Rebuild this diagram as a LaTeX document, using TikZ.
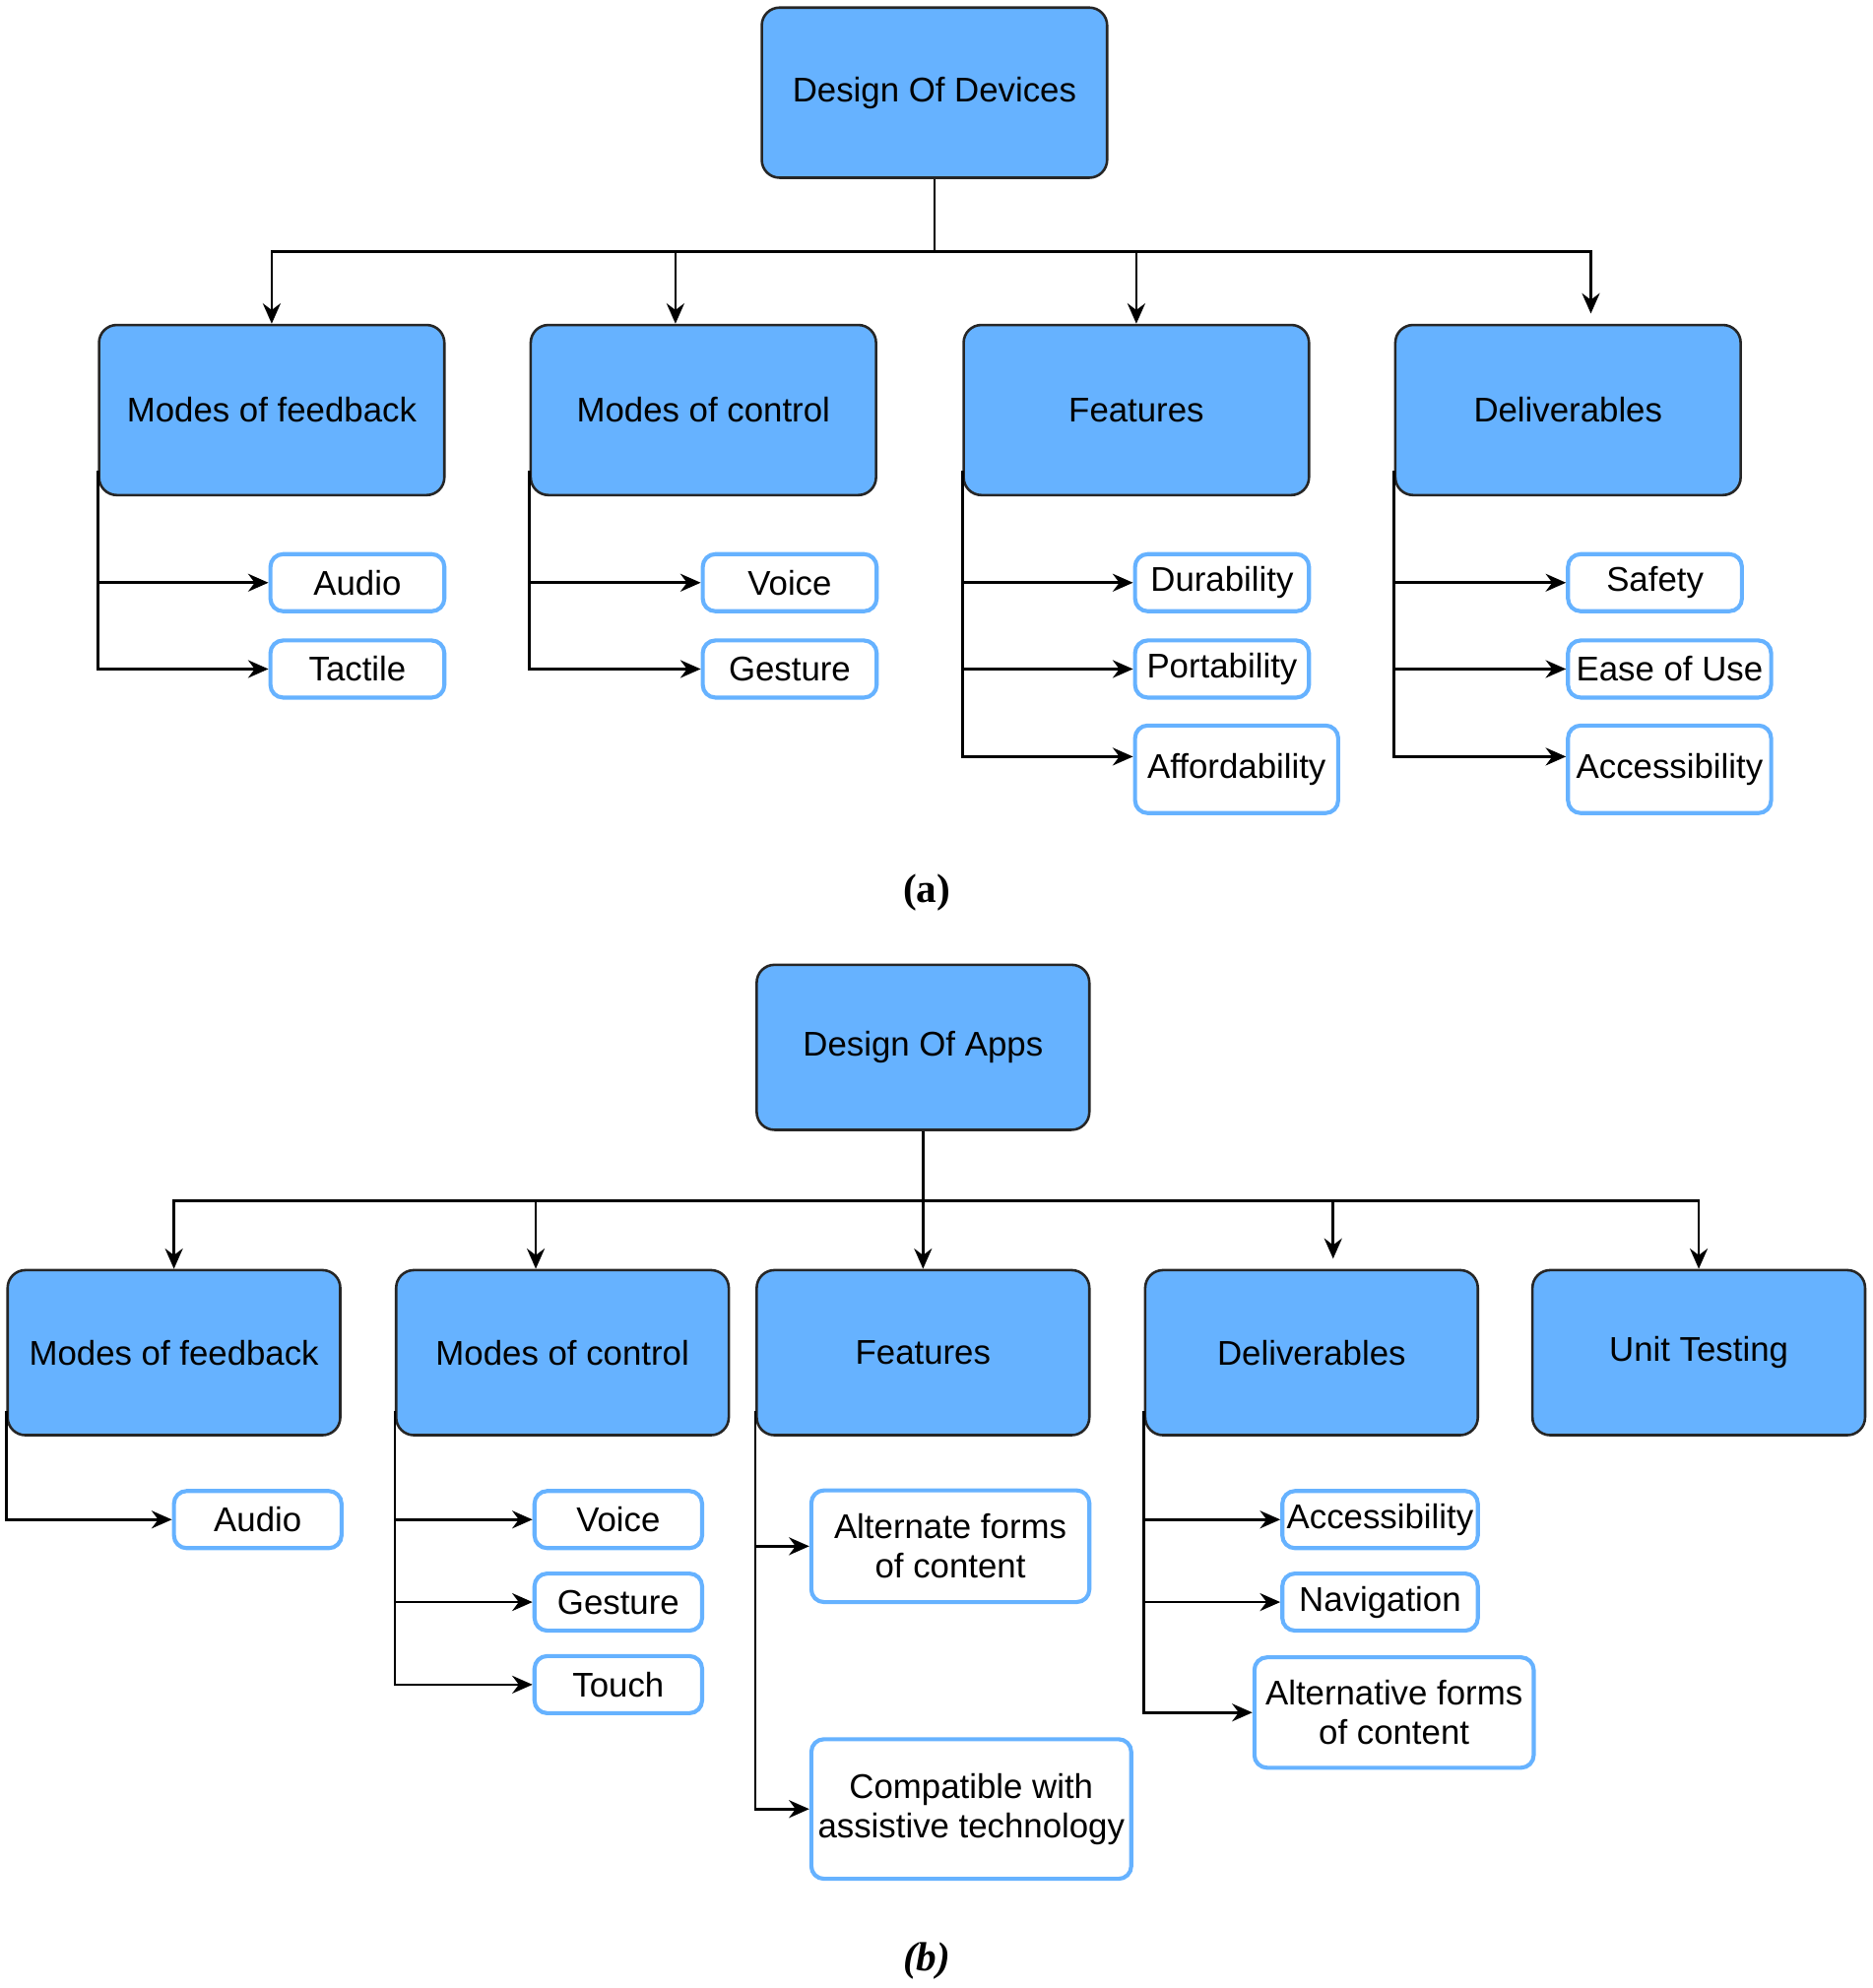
\documentclass[tikz,border=0pt]{standalone}
\usepackage{fontspec}
\setmainfont{Liberation Sans}
\newfontfamily\capfont{Liberation Serif}
\usetikzlibrary{arrows.meta}
\definecolor{boxblue}{HTML}{66B2FF}
\tikzset{
  mainbox/.style={draw=black!85,fill=boxblue,line width=1pt,rounded corners=7pt,
    minimum width=#1,minimum height=67pt,inner sep=2pt,font=\fontsize{13.5}{16}\selectfont},
  leafbox/.style={draw=boxblue,fill=white,line width=1.6pt,rounded corners=5pt,
    minimum width=#1,minimum height=22.5pt,inner sep=1pt,align=center,font=\fontsize{13.5}{15.5}\selectfont},
  link/.style={line width=1pt,-{Stealth[length=8pt,width=7pt]}},
}
\begin{document}
\begin{tikzpicture}[x=0.5pt,y=-0.5pt]
\useasboundingbox (0,0) rectangle (1475,1566);

% (a) devices
\node[mainbox=136pt] (dA) at (736,73) {Design Of Devices};
\node[mainbox=136pt] (fa) at (214,323) {Modes of feedback};
\node[mainbox=136pt] (ca) at (554,323) {Modes of control};
\node[mainbox=136pt] (ea) at (895,323) {Features};
\node[mainbox=136pt] (va) at (1235,323) {Deliverables};

\draw[link] (dA.south) -- ++(0,57) -| (fa.north);
\draw[link] (dA.south) -- ++(0,57) -| ([xshift=-11pt]ca.north);
\draw[link] (dA.south) -- ++(0,57) -| (ea.north);
\draw[link] (dA.south) -- ++(0,57) -| ([xshift=9pt,yshift=4pt]va.north);

\node[leafbox=68.5pt] (audioA) at (281.5,459) {Audio};
\node[leafbox=68.5pt] (tactileA) at (281.5,527) {Tactile};
\node[leafbox=68.5pt] (voiceA) at (622,459) {Voice};
\node[leafbox=68.5pt] (gestureA) at (622,527) {Gesture};
\node[leafbox=68.5pt] (durA) at (962.5,459) {Durability};
\node[leafbox=68.5pt] (portA) at (962.5,527) {Portability};
\node[leafbox=80pt,minimum height=34.5pt] (affA) at (974,606) {Affordability};
\node[leafbox=68.5pt] (safeA) at (1303.5,459) {Safety};
\node[leafbox=80pt] (easeA) at (1315,527) {Ease of Use};
\node[leafbox=80pt,minimum height=34.5pt] (accA) at (1315,606) {Accessibility};

\draw[link] ([yshift=10pt]fa.south west) |- (audioA.west);
\draw[link] ([yshift=10pt]fa.south west) |- (tactileA.west);
\draw[link] ([yshift=10pt]ca.south west) |- (voiceA.west);
\draw[link] ([yshift=10pt]ca.south west) |- (gestureA.west);
\draw[link] ([yshift=10pt]ea.south west) |- (durA.west);
\draw[link] ([yshift=10pt]ea.south west) |- (portA.west);
\draw[link] ([yshift=10pt]ea.south west) |- ([yshift=5pt]affA.west);
\draw[link] ([yshift=10pt]va.south west) |- (safeA.west);
\draw[link] ([yshift=10pt]va.south west) |- (easeA.west);
\draw[link] ([yshift=10pt]va.south west) |- ([yshift=5pt]accA.west);

\node[font=\capfont\bfseries\fontsize{16}{18}\selectfont] (capA) at (730,703) {(a)};

% (b) apps
\node[mainbox=131pt,minimum height=65pt] (dB) at (727,825) {Design Of Apps};
\node[mainbox=131pt,minimum height=65pt] (fb) at (137,1065.5) {Modes of feedback};
\node[mainbox=131pt,minimum height=65pt] (cb) at (443,1065.5) {Modes of control};
\node[mainbox=131pt,minimum height=65pt] (eb) at (727,1065.5) {Features};
\node[mainbox=131pt,minimum height=65pt] (vb) at (1033,1065.5) {Deliverables};
\node[mainbox=131pt,minimum height=65pt] (ub) at (1338,1065.5) {Unit Testing};

\draw[link] (dB.south) -- ++(0,55) -| (fb.north);
\draw[link] (dB.south) -- ++(0,55) -| ([xshift=-10.5pt]cb.north);
\draw[link] (dB.south) -- (eb.north);
\draw[link] (dB.south) -- ++(0,55) -| ([xshift=8.5pt,yshift=4pt]vb.north);
\draw[link] (dB.south) -- ++(0,55) -| (ub.north);

\node[leafbox=66pt] (audioB) at (203,1197) {Audio};
\node[leafbox=66pt] (voiceB) at (487,1197) {Voice};
\node[leafbox=66pt] (gestureB) at (487,1262) {Gesture};
\node[leafbox=66pt] (touchB) at (487,1327) {Touch};
\node[leafbox=109.5pt,minimum height=44pt] (altB) at (748.5,1218) {Alternate forms\\of content};
\node[leafbox=126pt,minimum height=55pt] (compB) at (765,1425) {Compatible with\\assistive technology};
\node[leafbox=77pt] (accB) at (1087,1197) {Accessibility};
\node[leafbox=77pt] (navB) at (1087,1262) {Navigation};
\node[leafbox=110pt,minimum height=43.5pt] (altvB) at (1098,1349) {Alternative forms\\of content};

\draw[link] ([yshift=10pt]fb.south west) |- (audioB.west);
\draw[link] ([yshift=10pt]cb.south west) |- (voiceB.west);
\draw[link] ([yshift=10pt]cb.south west) |- (gestureB.west);
\draw[link] ([yshift=10pt]cb.south west) |- (touchB.west);
\draw[link] ([yshift=10pt]eb.south west) |- (altB.west);
\draw[link] ([yshift=10pt]eb.south west) |- (compB.west);
\draw[link] ([yshift=10pt]vb.south west) |- (accB.west);
\draw[link] ([yshift=10pt]vb.south west) |- (navB.west);
\draw[link] ([yshift=10pt]vb.south west) |- (altvB.west);

\node[font=\capfont\bfseries\itshape\fontsize{16}{18}\selectfont] (capB) at (730,1545) {(b)};
\end{tikzpicture}
\end{document}
